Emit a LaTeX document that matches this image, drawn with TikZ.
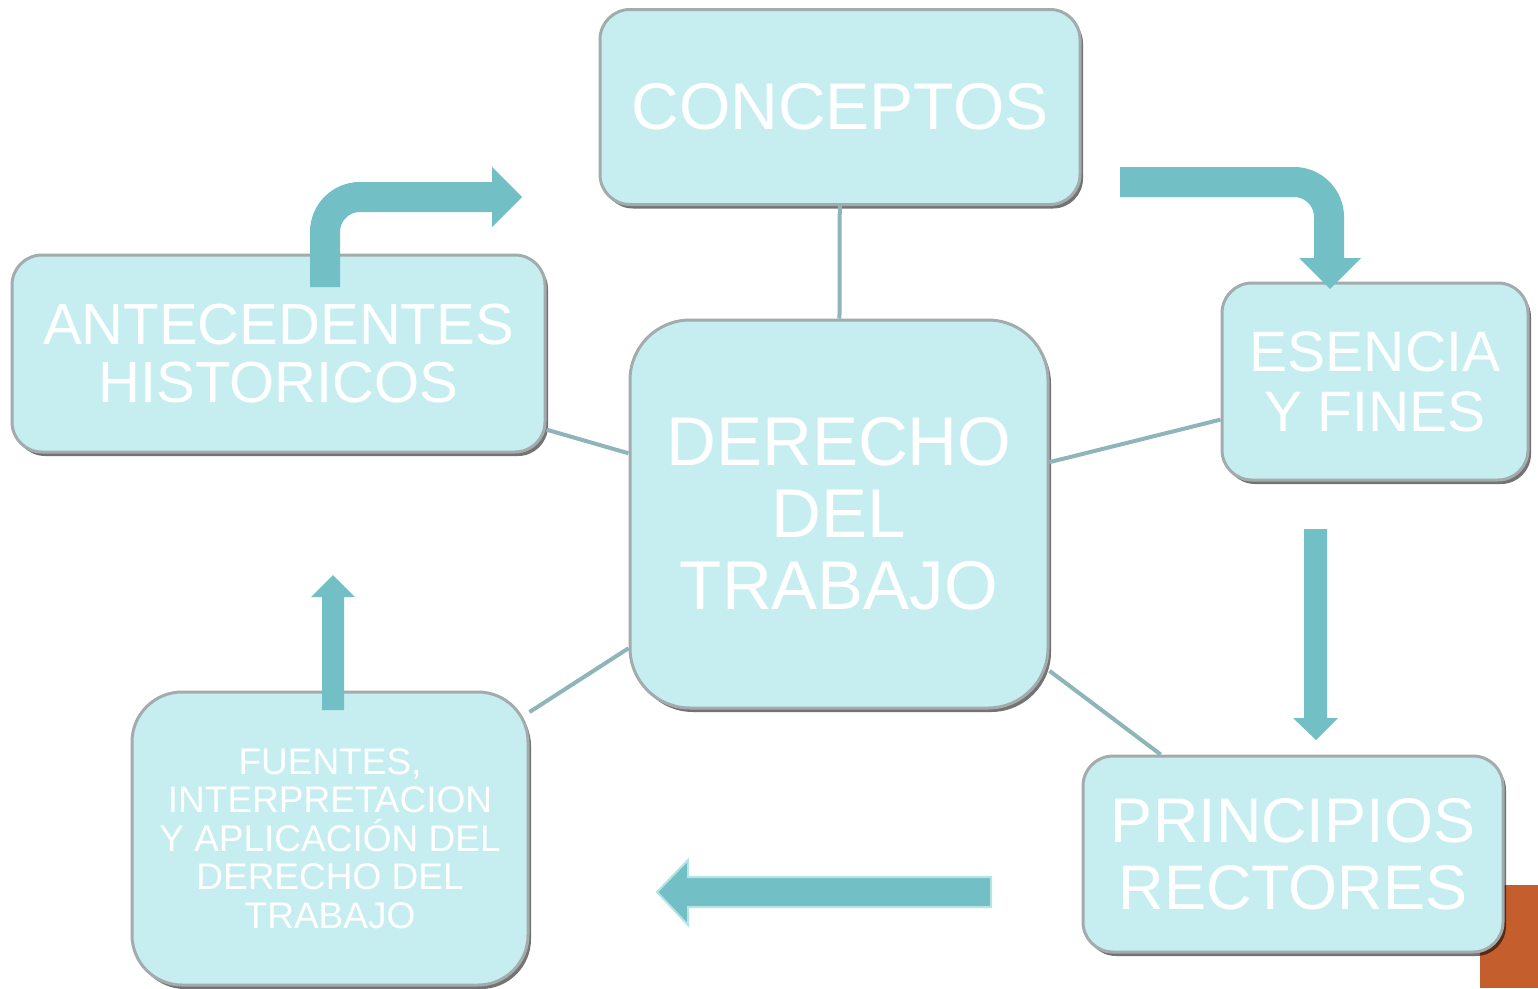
\documentclass[tikz,border=0pt]{standalone}
\usepackage{fontspec}
\setmainfont{Liberation Sans}
\usetikzlibrary{shadows}
\definecolor{boxfill}{HTML}{C6EEF1}
\definecolor{boxedge}{HTML}{A3ACAD}
\definecolor{connc}{HTML}{8FB5BA}
\definecolor{arrowc}{HTML}{72BFC5}
\definecolor{arrowline}{HTML}{B5E3E6}
\definecolor{orangec}{HTML}{C45E2D}
\tikzset{
  bx/.style={rectangle, rounded corners=30pt, fill=boxfill, draw=boxedge, line width=3pt,
    text=white, align=center, inner sep=0pt,
    drop shadow={shadow xshift=3pt, shadow yshift=-4pt, fill=black, opacity=0.55}},
  conn/.style={draw=connc, line width=4pt},
  bentarrow/.style={draw=arrowc, line width=30pt, line cap=butt, rounded corners=35pt},
  blockarrow/.style={fill=arrowc},
}
\begin{document}
\begin{tikzpicture}[x=1pt,y=-1pt]
\useasboundingbox (0,0) rectangle (1538,988);
\fill[white] (0,0) rectangle (1538,988);
% orange corner
\fill[orangec] (1480,885) rectangle (1538,988);

% boxes
\node[bx, minimum width=480pt, minimum height=195pt,
  font=\fontsize{66}{66}\selectfont] (con) at (840,107) {CONCEPTOS};
\node[bx, minimum width=533pt, minimum height=197pt,
  font=\fontsize{58}{58}\selectfont] (ant) at (278.5,353.5) {ANTECEDENTES\\HISTORICOS};
\node[bx, rounded corners=60pt, minimum width=418pt, minimum height=388pt,
  font=\fontsize{69}{72}\selectfont] (der) at (839,514) {DERECHO\\DEL\\TRABAJO};
\node[bx, minimum width=306pt, minimum height=197pt,
  font=\fontsize{57}{60}\selectfont] (ese) at (1375,381.5) {ESENCIA\\Y FINES};
\node[bx, minimum width=420pt, minimum height=196pt,
  font=\fontsize{63}{67}\selectfont] (pri) at (1293,854) {PRINCIPIOS\\RECTORES};
\node[bx, rounded corners=50pt, minimum width=396pt, minimum height=293pt,
  font=\fontsize{37}{38.5}\selectfont] (fue) at (330,838.5) {FUENTES,\\INTERPRETACION\\Y APLICACIÓN DEL\\DERECHO DEL\\TRABAJO};

% connectors
\draw[conn] (der) -- (con);
\draw[conn] (der) -- (ant);
\draw[conn] (der) -- (ese);
\draw[conn] (der) -- (pri);
\draw[conn] (der) -- (fue);

% bent arrow: antecedentes -> conceptos
\coordinate (a1s) at (325,287);
\coordinate (a1b) at (325,197);
\coordinate (a1e) at (492.5,197);
\draw[bentarrow] (a1s) -- (a1b) -- (a1e);
\fill[blockarrow] (492,167) -- (522,197) -- (492,227) -- cycle;

% bent arrow: conceptos -> esencia
\coordinate (a2s) at (1120,182);
\coordinate (a2b) at (1329,182);
\coordinate (a2e) at (1329,258.5);
\draw[bentarrow] (a2s) -- (a2b) -- (a2e);
\fill[blockarrow] (1299,258) -- (1361,258) -- (1330,289) -- cycle;

% straight arrow: esencia -> principios
\fill[blockarrow] (1304,529) -- (1327,529) -- (1327,718) -- (1338,718) -- (1316,740)
  -- (1293,718) -- (1304,718) -- cycle;

% left arrow: principios -> fuentes
\filldraw[fill=arrowc, draw=arrowline, line width=2pt] (991,877) -- (688,877) -- (688,860)
  -- (657,892) -- (688,925) -- (688,907) -- (991,907) -- cycle;

% up arrow: fuentes -> antecedentes
\fill[blockarrow] (322,710) -- (322,597) -- (311,597) -- (333,575) -- (355,597)
  -- (344,597) -- (344,710) -- cycle;
\end{tikzpicture}
\end{document}
